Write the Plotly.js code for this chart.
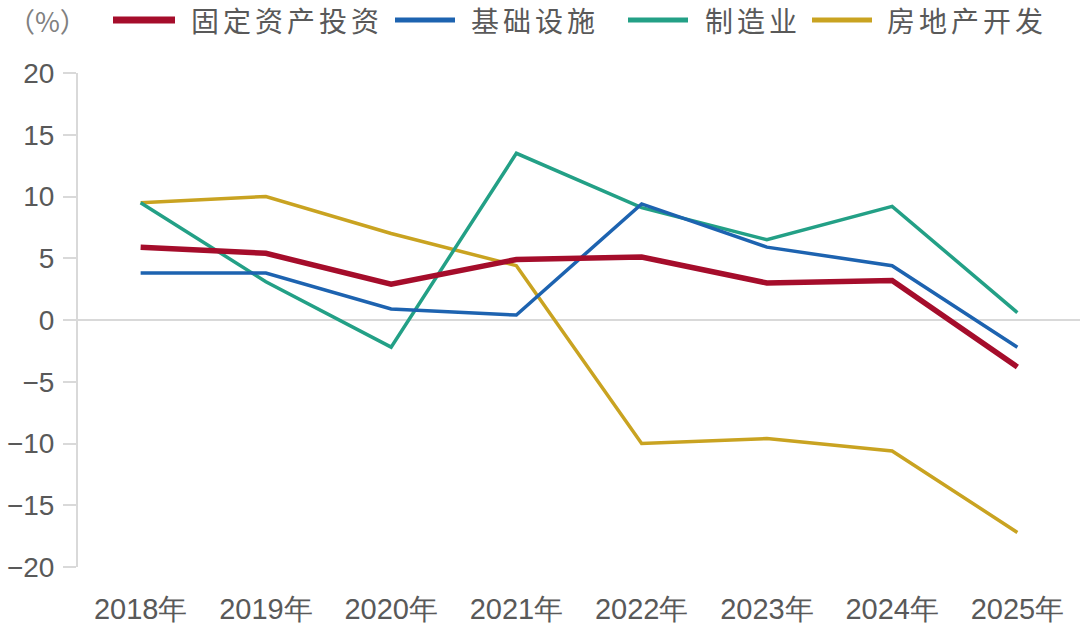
<!DOCTYPE html>
<html>
<head>
<meta charset="utf-8">
<script src="https://cdn.plot.ly/plotly-3.0.1.min.js"></script>
<style>
html,body{margin:0;padding:0;background:#fff;}
#chart{width:1080px;height:632px;}
.legtxt text{letter-spacing:4px;}
</style>
</head>
<body>
<div id="chart"></div>
<script>
const years = ["2018年","2019年","2020年","2021年","2022年","2023年","2024年","2025年"];
const seriesNames = ["固定资产投资","基础设施","制造业","房地产开发"];
const fixedAsset = [5.9, 5.4, 2.9, 4.9, 5.1, 3.0, 3.2, -3.8];
const infrastructure = [3.8, 3.8, 0.9, 0.4, 9.4, 5.9, 4.4, -2.2];
const manufacturing = [9.5, 3.1, -2.2, 13.5, 9.1, 6.5, 9.2, 0.6];
const realEstate = [9.5, 10.0, 7.0, 4.4, -10.0, -9.6, -10.6, -17.2];
const yTicks = [-20, -15, -10, -5, 0, 5, 10, 15, 20];
const unitLabel = "（%）";

const colors = ["#a50d2b", "#1d63b0", "#23a086", "#c9a321"];
const widths = [5.5, 3.5, 3.5, 3.5];
const values = [fixedAsset, infrastructure, manufacturing, realEstate];

const W = 1080, H = 632, ML = 78, MR = 0, MT = 73, MB = 65;
const px2x = p => (p - ML) / (W - ML - MR);
const py2y = p => (H - MB - p) / (H - MT - MB);
const SPACING = 4;

// draw order: put the bold red line on top
const order = [3, 2, 1, 0];
const traces = order.map(i => ({
  type: "scatter",
  mode: "lines",
  name: seriesNames[i],
  x: years,
  y: values[i],
  line: {color: colors[i], width: widths[i]},
  showlegend: false,
  hoverinfo: "x+y+name"
}));

// manual legend
const legendLines = [[113, 175], [395, 455], [628, 688], [812, 872]];
const legendText = [189, 469, 703, 885];
const legendY = 20;
const shapes = [];
const annotations = [{
  xref: "paper", yref: "paper", x: px2x(6), y: py2y(legendY),
  xanchor: "left", yanchor: "middle", showarrow: false,
  text: unitLabel, font: {family: "Noto Sans CJK SC", size: 27, color: "#808080"}
}];
seriesNames.forEach((n, i) => {
  shapes.push({
    type: "line", xref: "paper", yref: "paper",
    x0: px2x(legendLines[i][0]), x1: px2x(legendLines[i][1]),
    y0: py2y(legendY), y1: py2y(legendY),
    line: {color: colors[i], width: i === 0 ? 7 : 5}, layer: "above"
  });
  annotations.push({
    xref: "paper", yref: "paper", x: px2x(legendText[i] + n.length * SPACING / 2), y: py2y(legendY),
    xanchor: "left", yanchor: "middle", showarrow: false,
    text: n, font: {family: "Noto Sans CJK SC", size: 28, color: "#595959"}
  });
});

const layout = {
  width: W, height: H,
  margin: {l: ML, r: MR, t: MT, b: MB, pad: 0},
  paper_bgcolor: "#ffffff", plot_bgcolor: "#ffffff",
  showlegend: false,
  xaxis: {
    type: "category", range: [-0.5, 7.5],
    showgrid: false, zeroline: false, showline: false,
    ticks: "", ticklabelstandoff: 22,
    tickfont: {family: "Liberation Sans, Arial, sans-serif", size: 29, color: "#595959"},
    fixedrange: true
  },
  yaxis: {
    range: [-20, 20], tickvals: yTicks,
    showgrid: false, zeroline: true, zerolinecolor: "#d9d9d9", zerolinewidth: 2,
    showline: true, linecolor: "#d9d9d9", linewidth: 2,
    ticks: "outside", ticklen: 13, tickcolor: "#d9d9d9", tickwidth: 2,
    ticklabelstandoff: 3,
    tickfont: {family: "Liberation Sans, Arial, sans-serif", size: 28, color: "#595959"},
    fixedrange: true
  },
  shapes: shapes,
  annotations: annotations
};

Plotly.newPlot("chart", traces, layout, {displayModeBar: false, staticPlot: true}).then(() => {
  document.querySelectorAll(".annotation").forEach((g, k) => { if (k > 0) g.classList.add("legtxt"); });
});
</script>
</body>
</html>
